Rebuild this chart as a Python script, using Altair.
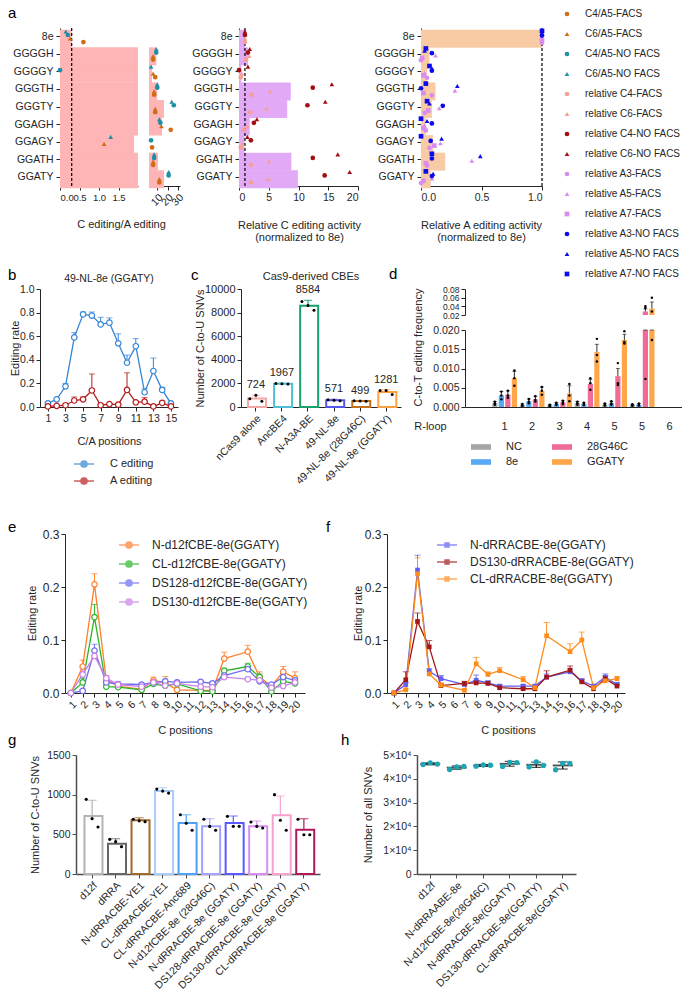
import altair as alt
import pandas as pd

FONT = "Liberation Sans"
INK = "#262626"

# ================= DATA =================
# ---- panel a ----
a_rows = ["8e", "GGGGH", "GGGGY", "GGGTH", "GGGTY", "GGAGH", "GGAGY", "GGATH", "GGATY"]
a1_bar = [0.3, 9.1, 4.9, 10.0, 16.5, 14.6, 1.9, 10.7, 16.5]
a1_c4_facs = [0.6, 6, 8, 7, 8, 23, 5, 6, 12]
a1_c6_facs = [0.26, 6, 6, 7, 8, 14, 1.13, 6, 12]
a1_c4_nofacs = [0.2, 9, 0.0, 10, 26, 13, 4, 7, 21]
a1_c6_nofacs = [0.15, 9, 4, 10, 24, 12, 1.3, 7, 21]

a2_bar = [1.0, 1.5, 0.4, 8.7, 8.1, 1.8, 0.9, 8.8, 9.9]
a2_c4_facs = [1.0, 1.2, 0.3, 2.1, 1.9, 0.8, 0.3, 2.0, 2.0]
a2_c6_facs = [1.0, 1.7, 0.5, 5.2, 4.6, 1.4, 0.6, 5.0, 4.9]
a2_c4_nofacs = [1.0, 1.5, 0.0, 12.4, 11.5, 2.5, 2.0, 12.4, 14.4]
a2_c6_nofacs = [1.0, 1.8, 1.5, 15.6, 14.5, 3.0, 1.4, 16.6, 18.6]

a3_bar = [1.0, 0.07, 0.05, 0.12, 0.09, 0.04, 0.10, 0.20, 0.08]
a3_a3_facs = [1.0, 0.0, 0.05, 0.09, 0.03, 0.04, 0.07, 0.05, 0.0]
a3_a5_facs = [1.0, 0.12, 0.03, 0.28, 0.15, 0.03, 0.16, 0.42, 0.09]
a3_a7_facs = [1.0, 0.01, 0.02, 0.02, 0.06, 0.02, 0.11, 0.04, 0.02]
a3_a3_nofacs = [1.0, 0.09, 0.09, 0.0, 0.18, 0.09, 0.08, 0.09, 0.09]
a3_a5_nofacs = [1.0, 0.03, 0.09, 0.30, 0.07, 0.05, 0.17, 0.49, 0.10]
a3_a7_nofacs = [1.0, 0.04, 0.07, 0.04, 0.05, 0.0, 0.0, 0.09, 0.04]

a_legend = ["C4/A5-FACS", "C6/A5-FACS", "C4/A5-NO FACS", "C6/A5-NO FACS",
            "relative C4-FACS", "relative C6-FACS", "relative C4-NO FACS", "relative C6-NO FACS",
            "relative A3-FACS", "relative A5-FACS", "relative A7-FACS",
            "relative A3-NO FACS", "relative A5-NO FACS", "relative A7-NO FACS"]
a_colors = ["#cf6d17", "#cf6d17", "#1f8fa3", "#1f8fa3",
            "#f59f97", "#f59f97", "#a50d12", "#a50d12",
            "#d98bef", "#d98bef", "#d98bef",
            "#0b0bf0", "#0b0bf0", "#0b0bf0"]
a_shapes = ["circle", "triangle-up", "circle", "triangle-up",
            "circle", "triangle-up", "circle", "triangle-up",
            "circle", "triangle-up", "square",
            "circle", "triangle-up", "square"]

# ---- panel b ----
b_title = "49-NL-8e (GGATY)"
b_pos = list(range(1, 16))
b_c = [0.03, 0.065, 0.175, 0.59, 0.785, 0.775, 0.70, 0.715, 0.54, 0.375, 0.515, 0.125, 0.305, 0.145, 0.03]
b_c_err = [0.01, 0.01, 0.025, 0.04, 0.02, 0.03, 0.06, 0.04, 0.08, 0.065, 0.065, 0.03, 0.11, 0.02, 0.01]
b_a = [0.005, 0.01, 0.015, 0.055, 0.065, 0.14, 0.015, 0.025, 0.02, 0.145, 0.04, 0.045, 0.005, 0.035, 0.005]
b_a_err = [0.005, 0.005, 0.005, 0.03, 0.02, 0.14, 0.005, 0.005, 0.005, 0.145, 0.01, 0.035, 0.005, 0.015, 0.005]

# ---- panel c ----
c_title = "Cas9-derived CBEs"
c_cats = ["nCas9 alone", "AncBE4", "N-A3A-BE", "49-NL-8e", "49-NL-8e (28G46C)", "49-NL-8e (GGATY)"]
c_vals = [724, 1967, 8584, 571, 499, 1281]
c_err = [270, 60, 460, 80, 40, 190]
c_rep1 = [690, 1990, 8950, 610, 520, 1400]
c_rep2 = [990, 1970, 8600, 570, 500, 1390]
c_rep3 = [492, 1940, 8200, 533, 477, 1053]
c_colors = ["#f4a6a6", "#4fbfd6", "#17a36e", "#5555ee", "#c0701c", "#ffa040"]

# ---- panel d ----
d_rloop = ["1", "2", "3", "4", "5", "5", "6"]
d_series = ["NC", "8e", "28G46C", "GGATY"]
d_colors = ["#a6a6a6", "#58aaf5", "#f06b97", "#ffa54a"]
d_NC = [0.0010, 0.0005, 0.0004, 0.0010, 0.0006, 0.0005]
d_8e = [0.0030, 0.0015, 0.0008, 0.0008, 0.0010, 0.0006]
d_28 = [0.0032, 0.0020, 0.0012, 0.0060, 0.0080, 0.0280]
d_GG = [0.0075, 0.0042, 0.0035, 0.0143, 0.0174, 0.0350]
d_NC_err = [0.0004, 0.0003, 0.0002, 0.0004, 0.0003, 0.0002]
d_8e_err = [0.0010, 0.0006, 0.0003, 0.0003, 0.0005, 0.0003]
d_28_err = [0.0010, 0.0008, 0.0004, 0.0012, 0.0020, 0.0060]
d_GG_err = [0.0018, 0.0010, 0.0020, 0.0020, 0.0015, 0.0150]
d_NC_reps = [[0.0014, 0.0008, 0.0006, 0.0014, 0.0009, 0.0007],
             [0.0010, 0.0004, 0.0004, 0.0010, 0.0005, 0.0004],
             [0.0006, 0.0003, 0.0002, 0.0006, 0.0004, 0.0004]]
d_8e_reps = [[0.0040, 0.0021, 0.0011, 0.0011, 0.0015, 0.0009],
             [0.0030, 0.0014, 0.0008, 0.0008, 0.0009, 0.0005],
             [0.0020, 0.0010, 0.0005, 0.0005, 0.0006, 0.0004]]
d_28_reps = [[0.0042, 0.0028, 0.0016, 0.0075, 0.0114, 0.0360],
             [0.0030, 0.0018, 0.0012, 0.0062, 0.0062, 0.0400],
             [0.0024, 0.0014, 0.0008, 0.0045, 0.0057, 0.0073]]
d_GG_reps = [[0.0095, 0.0052, 0.0060, 0.0177, 0.0197, 0.0600],
             [0.0075, 0.0042, 0.0030, 0.0135, 0.0169, 0.0280],
             [0.0055, 0.0032, 0.0015, 0.0118, 0.0165, 0.0174]]

# ---- panel e ----
e_pos = list(range(1, 21))
e_series = ["N-d12fCBE-8e(GGATY)", "CL-d12fCBE-8e(GGATY)", "DS128-d12fCBE-8e(GGATY)", "DS130-d12fCBE-8e(GGATY)"]
e_colors = ["#ff7f2a", "#2ab52a", "#6b6bf0", "#cc80ea"]
e_N = [0.0, 0.05, 0.205, 0.025, 0.013, None, 0.007, 0.024, 0.019, 0.006, None, 0.005, 0.005, 0.065, None, 0.078, 0.03, 0.013, 0.04, 0.028]
e_CL = [0.0, 0.02, 0.143, 0.012, 0.011, None, 0.006, 0.017, 0.014, 0.017, None, 0.004, 0.003, 0.042, None, 0.05, 0.03, 0.003, 0.022, 0.018]
e_DS128 = [0.0, 0.004, 0.08, 0.02, 0.017, None, 0.016, 0.02, 0.022, 0.02, None, 0.021, 0.018, 0.033, None, 0.045, 0.022, 0.016, 0.03, 0.024]
e_DS130 = [0.0, 0.035, 0.07, 0.028, 0.016, None, 0.012, 0.02, 0.014, 0.018, None, 0.012, 0.011, 0.03, None, 0.026, 0.024, 0.01, 0.013, 0.02]
e_N_err = [0, 0.012, 0.02, 0.008, 0.005, 0, 0.004, 0.006, 0.012, 0.004, 0, 0.004, 0.004, 0.012, 0, 0.012, 0.01, 0.004, 0.01, 0.012]
e_CL_err = [0, 0.008, 0.024, 0.004, 0.003, 0, 0.003, 0.004, 0.006, 0.006, 0, 0.002, 0.002, 0.005, 0, 0.006, 0.006, 0.002, 0.006, 0.004]
e_DS128_err = [0, 0.002, 0.012, 0.004, 0.004, 0, 0.003, 0.004, 0.004, 0.004, 0, 0.003, 0.003, 0.004, 0, 0.005, 0.004, 0.003, 0.006, 0.005]
e_DS130_err = [0, 0.01, 0.01, 0.004, 0.003, 0, 0.002, 0.004, 0.003, 0.003, 0, 0.002, 0.002, 0.004, 0, 0.004, 0.004, 0.002, 0.003, 0.004]

# ---- panel f ----
f_series = ["N-dRRACBE-8e(GGATY)", "DS130-dRRACBE-8e(GGATY)", "CL-dRRACBE-8e(GGATY)"]
f_colors = ["#5f5ff5", "#a31616", "#ff8c1a"]
f_N = [0.0, 0.016, 0.232, 0.041, 0.027, None, 0.016, 0.024, 0.019, 0.013, None, 0.013, 0.013, 0.03, None, 0.04, 0.023, 0.013, 0.03, 0.016]
f_DS130 = [0.0, 0.025, 0.135, 0.087, 0.014, None, 0.018, 0.019, 0.018, 0.01, None, 0.008, 0.008, 0.03, None, 0.043, 0.021, 0.008, 0.027, 0.013]
f_CL = [0.0, 0.006, 0.225, 0.036, 0.015, None, 0.005, 0.055, 0.035, 0.042, None, 0.025, 0.01, 0.108, None, 0.078, 0.1, 0.01, 0.023, 0.027]
f_N_err = [0, 0.004, 0.028, 0.005, 0.006, 0, 0.003, 0.01, 0.004, 0.003, 0, 0.003, 0.003, 0.006, 0, 0.006, 0.004, 0.003, 0.006, 0.004]
f_DS130_err = [0, 0.015, 0.016, 0.012, 0.003, 0, 0.004, 0.004, 0.003, 0.002, 0, 0.002, 0.002, 0.012, 0, 0.008, 0.004, 0.002, 0.005, 0.003]
f_CL_err = [0, 0.002, 0.03, 0.005, 0.004, 0, 0.002, 0.012, 0.005, 0.006, 0, 0.006, 0.003, 0.025, 0, 0.015, 0.015, 0.003, 0.004, 0.004]

# ---- panel g ----
g_cats = ["d12f", "dRRA", "N-dRRACBE-YE1", "CL-dRRACBE-YE1", "CL-dRRACBE-Anc689",
          "N-d12fCBE-8e (28G46C)", "N-dRRACBE-8e (GGATY)", "DS128-dRRACBE-8e (GGATY)",
          "DS130-dRRACBE-8e (GGATY)", "CL-dRRACBE-8e (GGATY)"]
g_vals = [731, 382, 677, 1046, 643, 601, 643, 601, 740, 559]
g_err = [198, 63, 32, 42, 104, 96, 88, 67, 243, 138]
g_rep1 = [941, 437, 690, 1070, 747, 690, 727, 655, 1000, 690]
g_rep2 = [697, 408, 670, 1045, 640, 600, 601, 601, 677, 495]
g_rep3 = [592, 345, 660, 1020, 551, 551, 601, 580, 551, 495]
g_colors = ["#b3b3b3", "#666666", "#a0692a", "#a9cdfa", "#4ea2f5", "#a3a3ff",
            "#5a5aff", "#d88cf2", "#f7a1cf", "#b0175c"]

# ---- panel h ----
h_cats = ["d12f", "N-dRRAABE-8e", "N-d12fCBE-8e(28G46C)", "N-dRRACBE-8e(GGATY)",
          "DS130-dRRACBE-8e(GGATY)", "CL-dRRACBE-8e(GGATY)"]
h_mean = [46300, 44700, 45600, 46300, 45900, 45600]
h_err = [400, 700, 400, 1000, 1100, 1500]
h_rep1 = [46000, 43900, 45300, 45200, 45000, 43800]
h_rep2 = [46700, 45000, 45800, 46900, 47100, 46500]
h_rep3 = [46200, 45200, 45700, 46800, 45600, 46500]

# ================= HELPERS =================
def axis(**kw):
    base = dict(labelFont=FONT, titleFont=FONT, labelColor=INK, titleColor=INK,
                domainColor=INK, tickColor=INK, labelFontSize=10.5, titleFontSize=11,
                titleFontWeight="normal", tickSize=4, grid=False, domainWidth=1,
                tickWidth=1, labelPadding=2, labelOverlap=False, tickCount=100)
    base.update(kw)
    return alt.Axis(**base)


def letter(ch, dx, dy):
    return alt.Chart(pd.DataFrame({"t": [ch]})).mark_text(
        font=FONT, fontSize=15, align="left", baseline="alphabetic", color="black"
    ).encode(text="t:N", x=alt.value(dx), y=alt.value(dy))


def head(txt, cx, cy, size):
    return alt.Chart(pd.DataFrame({"t": [txt]})).mark_text(
        font=FONT, fontSize=size, align="center", baseline="middle", color=INK
    ).encode(text="t:N", x=alt.value(cx), y=alt.value(cy))


def spacer(w=1, h=1):
    return alt.Chart(pd.DataFrame({"v": [0]})).mark_point(opacity=0).encode(
        x=alt.value(0), y=alt.value(0)).properties(width=w, height=h)


RES = dict(x="independent", y="independent", color="independent", shape="independent",
           stroke="independent", xOffset="independent", yOffset="independent")


def H(items, gaps):
    out = items[-1]
    for it, g in zip(items[-2::-1], gaps[::-1]):
        out = alt.hconcat(it, out, spacing=g, bounds="flush").resolve_scale(**RES)
    return out


def V(items, gaps):
    # nested concat groups count as zero height with flush bounds,
    # so each gap is the top-to-top distance between rows
    out = items[-1]
    for it, g in zip(items[-2::-1], gaps[::-1]):
        out = alt.vconcat(it, out, spacing=g, bounds="flush").resolve_scale(**RES)
    return out


def long_rows(rows, dct):
    recs = []
    for name, vals in dct.items():
        for r, v in zip(rows, vals):
            recs.append({"row": r, "series": name, "val": v})
    return pd.DataFrame(recs)


def long_series(pos, dct, errs):
    recs = []
    for name, vals in dct.items():
        for p, v, e in zip(pos, vals, errs[name]):
            if v is None:
                continue
            recs.append({"pos": p, "series": name, "val": v, "hi": v + e})
    return pd.DataFrame(recs)


colA = alt.Scale(domain=a_legend, range=a_colors)
shpA = alt.Scale(domain=a_legend, range=a_shapes)
yA = alt.Scale(domain=a_rows, paddingInner=0.2, paddingOuter=0.1)
yA_axis = axis(title=None, labelPadding=3)


def a_points(df, xs, order, flt=None):
    ch = alt.Chart(df)
    if flt:
        ch = ch.transform_filter(flt)
    return ch.mark_point(filled=True, size=22, opacity=1).encode(
        x=alt.X("val:Q", scale=xs),
        y=alt.Y("row:N", sort=a_rows, scale=yA),
        yOffset=alt.YOffset("series:N", sort=order, scale=alt.Scale(domain=order)),
        color=alt.Color("series:N", scale=colA, legend=None),
        shape=alt.Shape("series:N", scale=shpA, legend=None))


def a_rule(df, xs):
    return alt.Chart(df).transform_filter("datum.row == '8e'").mark_rule(
        color="black", strokeDash=[3, 2], strokeWidth=1.2).encode(
        x=alt.X("val:Q", scale=xs))


# ================= PANEL a =================
a1_bar_df = pd.DataFrame({"row": a_rows, "val": a1_bar})
a1_pts = long_rows(a_rows, {"C4/A5-FACS": a1_c4_facs, "C6/A5-FACS": a1_c6_facs,
                            "C4/A5-NO FACS": a1_c4_nofacs, "C6/A5-NO FACS": a1_c6_nofacs})
a1_order = ["C6/A5-NO FACS", "C4/A5-NO FACS", "C6/A5-FACS", "C4/A5-FACS"]

xs1 = alt.Scale(domain=[0, 2], nice=False, clamp=True)
a1s1 = alt.layer(
    alt.Chart(a1_bar_df).mark_bar(color="#ffb5b5").encode(
        x=alt.X("val:Q", scale=xs1, axis=axis(values=[0, 0.5, 1, 1.5], format=".1f", labelFontSize=9.5,
                                               title="C editing/A editing", titleX=61, titleY=38,
                                               titleBaseline="middle", titleAlign="center")),
        y=alt.Y("row:N", sort=a_rows, scale=yA, axis=yA_axis)),
    a_rule(a1_bar_df, xs1),
    a_points(a1_pts, xs1, a1_order, "datum.val <= 2"),
    letter("a", -52, -10),
).properties(width=78, height=158)

xs2 = alt.Scale(domain=[2, 32], nice=False, zero=False)
a1s2 = alt.layer(
    alt.Chart(a1_bar_df).transform_filter("datum.val > 2").mark_bar(color="#ffb5b5").encode(
        x=alt.X("val:Q", scale=xs2, axis=axis(values=[10, 20, 30], format="d", labelAngle=-45, title=None)),
        x2=alt.datum(2),
        y=alt.Y("row:N", sort=a_rows, scale=yA, axis=None)),
    a_points(a1_pts, xs2, a1_order, "datum.val > 2"),
).properties(width=31, height=158)

a2_bar_df = pd.DataFrame({"row": a_rows, "val": a2_bar})
a2_pts = long_rows(a_rows, {"relative C4-FACS": a2_c4_facs, "relative C6-FACS": a2_c6_facs,
                            "relative C4-NO FACS": a2_c4_nofacs, "relative C6-NO FACS": a2_c6_nofacs})
a2_order = ["relative C6-NO FACS", "relative C4-NO FACS", "relative C6-FACS", "relative C4-FACS"]
xa2 = alt.Scale(domain=[0, 20], nice=False)
a2 = alt.layer(
    alt.Chart(a2_bar_df).mark_bar(color="#e2aaf6").encode(
        x=alt.X("val:Q", scale=xa2, axis=axis(values=[0, 5, 10, 15, 20], format="d",
                                               title=["Relative C editing activity", "(normalized to 8e)"],
                                               titleX=60, titleY=39.5, titleLineHeight=11.5,
                                               titleBaseline="middle", titleAlign="center")),
        y=alt.Y("row:N", sort=a_rows, scale=yA, axis=yA_axis)),
    a_rule(a2_bar_df, xa2),
    a_points(a2_pts, xa2, a2_order),
).properties(width=119, height=158)

a3_bar_df = pd.DataFrame({"row": a_rows, "val": a3_bar})
a3_pts = long_rows(a_rows, {"relative A3-FACS": a3_a3_facs, "relative A5-FACS": a3_a5_facs,
                            "relative A7-FACS": a3_a7_facs, "relative A3-NO FACS": a3_a3_nofacs,
                            "relative A5-NO FACS": a3_a5_nofacs, "relative A7-NO FACS": a3_a7_nofacs})
a3_order = ["relative A7-NO FACS", "relative A5-NO FACS", "relative A3-NO FACS",
            "relative A5-FACS", "relative A7-FACS", "relative A3-FACS"]
xa3 = alt.Scale(domain=[0, 1], nice=False)
a3 = alt.layer(
    alt.Chart(a3_bar_df).mark_bar(color="#f8cba4").encode(
        x=alt.X("val:Q", scale=xa3, axis=axis(values=[0, 0.5, 1], format=".1f",
                                               title=["Relative A editing activity", "(normalized to 8e)"],
                                               titleX=60, titleY=39.5, titleLineHeight=11.5,
                                               titleBaseline="middle", titleAlign="center")),
        y=alt.Y("row:N", sort=a_rows, scale=yA, axis=yA_axis)),
    a_rule(a3_bar_df, xa3),
    a_points(a3_pts, xa3, a3_order),
).properties(width=121, height=158)

leg_df = pd.DataFrame({"label": a_legend, "idx": list(range(len(a_legend)))})
yleg = alt.Scale(domain=[0.7, 8.6], reverse=True, nice=False, zero=False)
aleg = alt.layer(
    alt.Chart(leg_df).mark_point(filled=True, size=22, opacity=1).encode(
        x=alt.value(6), y=alt.Y("idx:Q", scale=yleg, axis=None),
        color=alt.Color("label:N", scale=colA, legend=None),
        shape=alt.Shape("label:N", scale=shpA, legend=None)),
    alt.Chart(leg_df).mark_text(align="left", baseline="middle", font=FONT, fontSize=10,
                                color=INK).encode(
        x=alt.value(24), y=alt.Y("idx:Q", scale=yleg, axis=None), text="label:N"),
).properties(width=20, height=158)

row1 = H([spacer(), a1s1, a1s2, a2, a3, aleg], [19, 11, 59, 63, 19])

# ================= line panel helper =================
SYM_CIRC = "M-1,0H-0.32M0.32,0H1M0.32,0A0.32,0.32,0,1,1,-0.32,0A0.32,0.32,0,1,1,0.32,0"
SYM_SQ = "M-1,0H1M-0.2,-0.2H0.2V0.2H-0.2Z"


def line_panel(df, order, colors, xs, ys, xax, yax, pt_mark, legend):
    col = alt.Scale(domain=order, range=colors)
    base = alt.Chart(df)
    line = base.mark_line(strokeWidth=1.3).encode(
        x=alt.X("pos:Q", scale=xs, axis=xax), y=alt.Y("val:Q", scale=ys, axis=yax),
        color=alt.Color("series:N", scale=col, legend=legend))
    err = base.mark_rule(strokeWidth=1).encode(
        x=alt.X("pos:Q", scale=xs), y=alt.Y("val:Q", scale=ys),
        y2="hi:Q", color=alt.Color("series:N", scale=col))
    cap = base.mark_tick(orient="horizontal", size=6, thickness=1).encode(
        x=alt.X("pos:Q", scale=xs), y=alt.Y("hi:Q", scale=ys),
        color=alt.Color("series:N", scale=col))
    pts = pt_mark(base).encode(
        x=alt.X("pos:Q", scale=xs), y=alt.Y("val:Q", scale=ys),
        color=alt.Color("series:N", scale=col))
    return [line, err, cap, pts]


# ================= PANEL b =================
b_df = long_series(b_pos, {"C editing": b_c, "A editing": b_a},
                   {"C editing": b_c_err, "A editing": b_a_err})
b_layers = line_panel(
    b_df, ["C editing", "A editing"], ["#3385d6", "#b71c1c"],
    alt.Scale(domain=[0.1, 15.8], nice=False, zero=False),
    alt.Scale(domain=[0, 1], nice=False),
    axis(values=[1, 3, 5, 7, 9, 11, 13, 15], format="d", title="C/A positions", titleX=69, titleY=34,
         titleBaseline="middle", titleAlign="center"),
    axis(values=[0, 0.2, 0.4, 0.6, 0.8, 1.0], format=".1f", title="Editing rate",
         titleX=-25, titleY=59, titleBaseline="middle", titleAlign="center"),
    lambda c: c.mark_point(filled=False, fill="white", fillOpacity=1, size=30, strokeWidth=1.2),
    alt.Legend(title=None, orient="none", legendX=33, legendY=164, symbolType=SYM_CIRC,
               symbolSize=400, symbolStrokeWidth=1.3, labelFont=FONT, labelFontSize=11,
               labelColor=INK, labelOffset=15, rowPadding=0, padding=0, labelLimit=0))
b_chart = alt.layer(*b_layers, letter("b", -32, -9), head(b_title, 69, -10, 10.5)).properties(
    width=138, height=118)

# ================= PANEL c =================
c_df = pd.DataFrame({"cat": c_cats, "val": c_vals, "hi": [v + e for v, e in zip(c_vals, c_err)]})
c_reps = pd.DataFrame([{"cat": c, "rep": f"r{k}", "val": v}
                       for k, reps in enumerate([c_rep1, c_rep2, c_rep3])
                       for c, v in zip(c_cats, reps)])
xC = alt.Scale(domain=c_cats, paddingInner=0.4, paddingOuter=0.27)
yC = alt.Scale(domain=[0, 10000], nice=False)
strC = alt.Scale(domain=c_cats, range=c_colors)
c_chart = alt.layer(
    alt.Chart(c_df).mark_bar(fill="white", strokeWidth=2).encode(
        x=alt.X("cat:N", sort=c_cats, scale=xC, axis=axis(labelAngle=-45, title=None, tickSize=4)),
        y=alt.Y("val:Q", scale=yC, axis=axis(values=[0, 2000, 4000, 6000, 8000, 10000], labelFontSize=11,
                                              format="d",
                                              title="Number of C-to-U SNVs", titleX=-41, titleY=59,
                                              titleBaseline="middle", titleAlign="center")),
        stroke=alt.Stroke("cat:N", scale=strC, legend=None)),
    alt.Chart(c_df).mark_rule(strokeWidth=1.2).encode(
        x=alt.X("cat:N", sort=c_cats, scale=xC),
        y=alt.Y("val:Q", scale=yC), y2="hi:Q",
        stroke=alt.Stroke("cat:N", scale=strC, legend=None)),
    alt.Chart(c_df).mark_tick(orient="horizontal", size=8, thickness=1.2).encode(
        x=alt.X("cat:N", sort=c_cats, scale=xC),
        y=alt.Y("hi:Q", scale=yC),
        color=alt.Color("cat:N", scale=strC, legend=None)),
    alt.Chart(c_reps).mark_circle(size=9, color="black", opacity=1).encode(
        x=alt.X("cat:N", sort=c_cats, scale=xC),
        xOffset=alt.XOffset("rep:N", scale=alt.Scale(paddingOuter=0.3)),
        y=alt.Y("val:Q", scale=yC)),
    alt.Chart(c_df).mark_text(baseline="bottom", dy=-5, font=FONT, fontSize=11, color=INK).encode(
        x=alt.X("cat:N", sort=c_cats, scale=xC),
        y=alt.Y("hi:Q", scale=yC), text=alt.Text("val:Q", format="d")),
    letter("c", -50, -9),
    head(c_title, 70, -12, 11),
).properties(width=160, height=118)

# ================= PANEL d =================
d_keys = []
for lab in d_rloop:
    k = lab
    while k in d_keys:
        k = k + " "
    d_keys.append(k)
d_sites = d_keys[:6]
d_vals = {"NC": d_NC, "8e": d_8e, "28G46C": d_28, "GGATY": d_GG}
d_errs = {"NC": d_NC_err, "8e": d_8e_err, "28G46C": d_28_err, "GGATY": d_GG_err}
d_repl = {"NC": d_NC_reps, "8e": d_8e_reps, "28G46C": d_28_reps, "GGATY": d_GG_reps}
d_df = pd.DataFrame([{"site": s, "series": n, "val": v, "hi": v + e}
                     for n in d_series for s, v, e in zip(d_sites, d_vals[n], d_errs[n])])
d_reps = pd.DataFrame([{"site": s, "series": n, "val": v}
                       for n in d_series for reps in d_repl[n] for s, v in zip(d_sites, reps)])
DW = 217
xD = alt.Scale(domain=d_keys, paddingInner=0.1, paddingOuter=0.495, align=1.0)
xoD = alt.Scale(domain=d_series, paddingInner=0.2)
colD = alt.Scale(domain=d_series, range=d_colors)
yDl = alt.Scale(domain=[0, 0.02], nice=False, clamp=True)
yDu = alt.Scale(domain=[0.02, 0.08], nice=False, zero=False)
SYM_RECT = "M-1,-0.28H1V0.28H-1Z"


def d_layers(ys, upper):
    flt_bar = "datum.val > 0.02" if upper else "true"
    flt_pt = "datum.val > 0.02" if upper else "datum.val <= 0.02"
    xax = None if upper else axis(labelAngle=0, tickSize=0, labelPadding=13, labelFontSize=11,
                                  title="R-loop", titleX=-35, titleY=19, titleBaseline="middle",
                                  titleAlign="center", titleFontSize=11)
    if upper:
        yax = axis(values=[0.02, 0.04, 0.06, 0.08], format=".2f", title=None, labelFontSize=8.5,
                   labelBound=False)
    else:
        yax = axis(values=[0, 0.005, 0.01, 0.015, 0.02], format=".3f",
                   title="C-to-T editing frequency", titleX=-47, titleY=17,
                   titleBaseline="middle", titleAlign="center")
    leg = None if upper else alt.Legend(
        title=None, orient="none", legendX=6, legendY=107, columns=2, symbolType=SYM_RECT,
        symbolSize=400, symbolStrokeWidth=0, labelFont=FONT, labelFontSize=11, labelColor=INK,
        labelOffset=15, rowPadding=0, columnPadding=30, padding=0, labelLimit=0)
    bar_enc = dict(
        x=alt.X("site:N", scale=xD, axis=xax),
        xOffset=alt.XOffset("series:N", scale=xoD),
        y=alt.Y("val:Q", scale=ys, axis=yax),
        color=alt.Color("series:N", scale=colD, legend=leg))
    if upper:
        bar_enc["y2"] = alt.datum(0.02)
    bars = alt.Chart(d_df).transform_filter(flt_bar).mark_bar().encode(**bar_enc)
    err = alt.Chart(d_df).transform_filter(flt_bar).mark_rule(color="black", strokeWidth=0.8).encode(
        x=alt.X("site:N", scale=xD), xOffset=alt.XOffset("series:N", scale=xoD),
        y=alt.Y("val:Q", scale=ys), y2="hi:Q")
    cap = alt.Chart(d_df).transform_filter(flt_bar).mark_tick(
        orient="horizontal", size=4, thickness=0.8, color="black").encode(
        x=alt.X("site:N", scale=xD), xOffset=alt.XOffset("series:N", scale=xoD),
        y=alt.Y("hi:Q", scale=ys))
    dots = alt.Chart(d_reps).transform_filter(flt_pt).mark_circle(size=6, color="black", opacity=1).encode(
        x=alt.X("site:N", scale=xD), xOffset=alt.XOffset("series:N", scale=xoD),
        y=alt.Y("val:Q", scale=ys))
    return [bars, err, cap, dots]


d_upper = alt.layer(*d_layers(yDu, True), letter("d", -76, -10)).properties(width=DW, height=26)
d_lower = alt.layer(*d_layers(yDl, False)).properties(width=DW, height=77)
d_chart = alt.vconcat(d_upper, d_lower, spacing=15, bounds="flush").resolve_scale(**RES)

row2 = H([b_chart, c_chart, d_chart], [63, 64])

# ================= PANEL e / f =================
e_df = long_series(e_pos, dict(zip(e_series, [e_N, e_CL, e_DS128, e_DS130])),
                   dict(zip(e_series, [e_N_err, e_CL_err, e_DS128_err, e_DS130_err])))
e_layers = line_panel(
    e_df, e_series, e_colors,
    alt.Scale(domain=[0.5, 20.85], nice=False, zero=False),
    alt.Scale(domain=[0, 0.3], nice=False),
    axis(values=e_pos, format="d", labelAngle=-45, title="C positions", titleX=120, titleY=37,
         titleBaseline="middle", titleAlign="center"),
    axis(values=[0, 0.1, 0.2, 0.3], format=".1f", labelFontSize=12, title="Editing rate",
         titleX=-33, titleY=79, titleBaseline="middle", titleAlign="center"),
    lambda c: c.mark_point(filled=False, fill="white", fillOpacity=1, size=30, strokeWidth=1.2),
    alt.Legend(title=None, orient="none", legendX=53, legendY=0, symbolType=SYM_CIRC,
               symbolSize=400, symbolStrokeWidth=1.3, labelFont=FONT, labelFontSize=12,
               labelColor=INK, labelOffset=12, rowPadding=2, padding=0, labelLimit=0))
e_chart = alt.layer(*e_layers, letter("e", -57, -2)).properties(width=240, height=159)

f_df = long_series(e_pos, dict(zip(f_series, [f_N, f_DS130, f_CL])),
                   dict(zip(f_series, [f_N_err, f_DS130_err, f_CL_err])))
f_layers = line_panel(
    f_df, f_series, f_colors,
    alt.Scale(domain=[0.4, 20.68], nice=False, zero=False),
    alt.Scale(domain=[0, 0.3], nice=False),
    axis(values=e_pos, format="d", labelAngle=-45, title="C positions", titleX=121, titleY=37,
         titleBaseline="middle", titleAlign="center"),
    axis(values=[0, 0.1, 0.2, 0.3], format=".1f", labelFontSize=12, title="Editing rate",
         titleX=-29, titleY=79, titleBaseline="middle", titleAlign="center"),
    lambda c: c.mark_point(filled=True, shape="square", size=22, opacity=1),
    alt.Legend(title=None, orient="none", legendX=49, legendY=0, symbolType=SYM_SQ,
               symbolSize=400, symbolStrokeWidth=1.5, labelFont=FONT, labelFontSize=12,
               labelColor=INK, labelOffset=12, rowPadding=0, padding=0, labelLimit=0))
f_chart = alt.layer(*f_layers, letter("f", -61, -2)).properties(width=238, height=159)

row3 = H([spacer(), e_chart, f_chart], [24, 82])

# ================= PANEL g =================
GAX = dict(domainColor="#4d4d4d", tickColor="#4d4d4d", domainWidth=1.5)
g_df = pd.DataFrame({"cat": g_cats, "val": g_vals, "hi": [v + e for v, e in zip(g_vals, g_err)]})
g_reps = pd.DataFrame([{"cat": c, "rep": f"r{k}", "val": v}
                       for k, reps in enumerate([g_rep1, g_rep2, g_rep3])
                       for c, v in zip(g_cats, reps)])
xG = alt.Scale(domain=g_cats, paddingInner=0.35, paddingOuter=0.36)
yG = alt.Scale(domain=[0, 1500], nice=False)
strG = alt.Scale(domain=g_cats, range=g_colors)
g_chart = alt.layer(
    alt.Chart(g_df).mark_bar(fill="white", strokeWidth=2).encode(
        x=alt.X("cat:N", sort=g_cats, scale=xG, axis=axis(labelAngle=-45, title=None, labelFontSize=10.5, **GAX)),
        y=alt.Y("val:Q", scale=yG, axis=axis(values=[0, 500, 1000, 1500], format="d",
                                              title="Number of C-to-U SNVs",
                                              titleX=-41, titleY=59.5, titleBaseline="middle",
                                              titleAlign="center", **GAX)),
        stroke=alt.Stroke("cat:N", scale=strG, legend=None)),
    alt.Chart(g_df).mark_rule(strokeWidth=1.2).encode(
        x=alt.X("cat:N", sort=g_cats, scale=xG),
        y=alt.Y("val:Q", scale=yG), y2="hi:Q",
        stroke=alt.Stroke("cat:N", scale=strG, legend=None)),
    alt.Chart(g_df).mark_tick(orient="horizontal", size=9, thickness=1.2).encode(
        x=alt.X("cat:N", sort=g_cats, scale=xG),
        y=alt.Y("hi:Q", scale=yG),
        color=alt.Color("cat:N", scale=strG, legend=None)),
    alt.Chart(g_reps).mark_circle(size=10, color="black", opacity=1).encode(
        x=alt.X("cat:N", sort=g_cats, scale=xG),
        xOffset=alt.XOffset("rep:N", scale=alt.Scale(paddingOuter=0.3)),
        y=alt.Y("val:Q", scale=yG)),
    letter("g", -68, -10),
).properties(width=244, height=119)

# ================= PANEL h =================
h_df = pd.DataFrame({"cat": h_cats, "val": h_mean,
                     "lo": [m - e for m, e in zip(h_mean, h_err)],
                     "hi": [m + e for m, e in zip(h_mean, h_err)]})
h_reps = pd.DataFrame([{"cat": c, "rep": f"r{k}", "val": v}
                       for k, reps in enumerate([h_rep1, h_rep2, h_rep3])
                       for c, v in zip(h_cats, reps)])
xH = alt.Scale(domain=h_cats, paddingInner=0.3, paddingOuter=0.15)
yH = alt.Scale(domain=[0, 50000], nice=False)
h_chart = alt.layer(
    alt.Chart(h_df).mark_rule(color="black", strokeWidth=1.2).encode(
        x=alt.X("cat:N", sort=h_cats, scale=xH, axis=axis(labelAngle=-45, title=None, labelFontSize=10.5, **GAX)),
        y=alt.Y("lo:Q", scale=yH, axis=axis(values=[0, 10000, 20000, 30000, 40000, 50000],
                                             labelExpr="datum.value == 0 ? '0' : format(datum.value / 10000, 'd') + '×10⁴'",
                                             title="Number of all SNVs", titleX=-49, titleY=59.5,
                                             titleBaseline="middle", titleAlign="center", **GAX)),
        y2="hi:Q"),
    alt.Chart(h_df).mark_tick(orient="horizontal", size=20, thickness=1.8, color="black").encode(
        x=alt.X("cat:N", sort=h_cats, scale=xH), y=alt.Y("val:Q", scale=yH)),
    alt.Chart(h_df).mark_tick(orient="horizontal", size=10, thickness=1.2, color="black").encode(
        x=alt.X("cat:N", sort=h_cats, scale=xH), y=alt.Y("hi:Q", scale=yH)),
    alt.Chart(h_df).mark_tick(orient="horizontal", size=10, thickness=1.2, color="black").encode(
        x=alt.X("cat:N", sort=h_cats, scale=xH), y=alt.Y("lo:Q", scale=yH)),
    alt.Chart(h_reps).mark_circle(size=28, color="#1ea5b5", opacity=1).encode(
        x=alt.X("cat:N", sort=h_cats, scale=xH),
        xOffset=alt.XOffset("rep:N", scale=alt.Scale(paddingOuter=0.3)),
        y=alt.Y("val:Q", scale=yH)),
    letter("h", -76, -10),
).properties(width=159, height=119)

row4 = H([spacer(), g_chart, h_chart], [35, 97])

chart = V([row1, row2, row3, row4], [261, 245, 221]).properties(
    padding={"top": -2, "left": 0, "right": 0, "bottom": 55},
    background="white").configure_view(stroke=None)

chart.save("out.html", embed_options={"renderer": "svg", "actions": False})
